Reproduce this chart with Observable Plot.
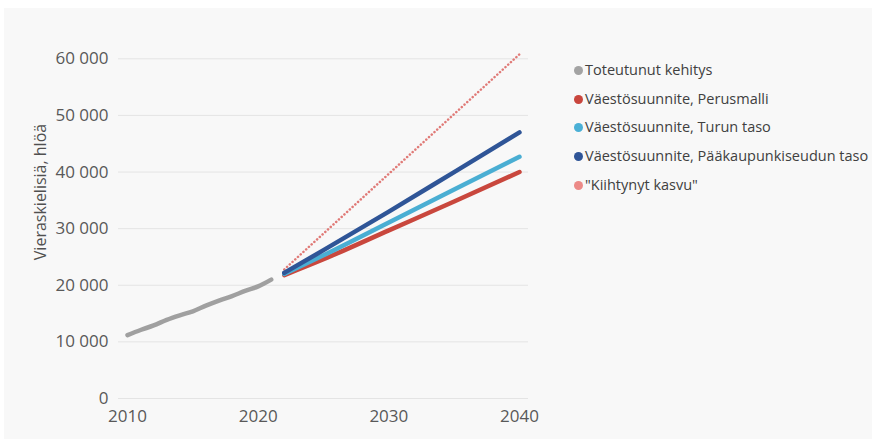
<!DOCTYPE html>
<html>
<head>
<meta charset="utf-8">
<script src="https://cdn.jsdelivr.net/npm/d3@7"></script>
<script src="https://cdn.jsdelivr.net/npm/@observablehq/plot@0.6"></script>
<style>
  html, body { margin: 0; padding: 0; background: #ffffff; overflow: hidden; }
  #wrap { position: relative; width: 872px; height: 439px; overflow: hidden; }
  #bg { position: absolute; left: 4px; top: 8px; right: 0; bottom: 0; background: #f8f8f8; }
  #chart { position: absolute; left: 0; top: 0; }
  #legend { position: absolute; left: 574px; top: 56px; font-family: "Open Sans", sans-serif; font-size: 14.5px; color: #404040; white-space: nowrap; }
  #legend .item { height: 28.7px; display: flex; align-items: center; line-height: 1; }
  #legend .sw { width: 9px; height: 9px; border-radius: 50%; margin-right: 2px; flex: none; }
</style>
</head>
<body>
<div id="wrap"><div id="bg"></div><div id="chart"></div><div id="legend"></div></div>
<script>
// ---- data ----
const histYears = [2010, 2011, 2012, 2013, 2014, 2015, 2016, 2017, 2018, 2019, 2020, 2021];
const histValues = [11200, 12100, 12900, 13900, 14700, 15400, 16400, 17300, 18100, 19000, 19800, 21000];

const projYears = [2022, 2025, 2030, 2035, 2040];
const perusmalli = [21800, 24600, 29700, 34800, 40000];
const turunTaso = [22000, 25300, 31100, 36900, 42700];
const paakaupunkiTaso = [22200, 26200, 33000, 40000, 47000];

const kiihtynytYears = [2022, 2040];
const kiihtynyt = [22800, 60800];

const seriesNames = [
  "Toteutunut kehitys",
  "Väestösuunnite, Perusmalli",
  "Väestösuunnite, Turun taso",
  "Väestösuunnite, Pääkaupunkiseudun taso",
  "\"Kiihtynyt kasvu\""
];
const lineColors = ["#a0a0a0", "#c9473d", "#4aaed3", "#2f5597", "#e07a77"];
const legendColors = ["#a3a3a3", "#c9463d", "#4bb0d6", "#2f5597", "#ec8a87"];

const yTicks = [0, 10000, 20000, 30000, 40000, 50000, 60000];
const xTicks = [2010, 2020, 2030, 2040];
const yLabel = "Vieraskielisiä, hlöä";

// ---- build tables ----
const solid = [
  ...histYears.map((x, i) => ({x, y: histValues[i], s: seriesNames[0]})),
  ...projYears.map((x, i) => ({x, y: perusmalli[i], s: seriesNames[1]})),
  ...projYears.map((x, i) => ({x, y: turunTaso[i], s: seriesNames[2]})),
  ...projYears.map((x, i) => ({x, y: paakaupunkiTaso[i], s: seriesNames[3]}))
];
const dotted = kiihtynytYears.map((x, i) => ({x, y: kiihtynyt[i], s: seriesNames[4]}));

const fmt = d => d3.format(",")(d).replace(/,/g, " ");

const chart = Plot.plot({
  width: 872,
  height: 439,
  marginLeft: 118,
  marginRight: 344,
  marginTop: 47,
  marginBottom: 41,
  style: {background: "transparent", fontFamily: "Open Sans, sans-serif", fontSize: "17px", color: "#595959"},
  x: {domain: [2009.31, 2040.69]},
  y: {domain: [0, 62000]},
  color: {domain: seriesNames, range: lineColors},
  marks: [
    Plot.ruleY(yTicks, {stroke: "#e4e4e4", strokeWidth: 1}),
    Plot.axisY(yTicks, {tickSize: 0, tickPadding: 10, tickFormat: fmt, label: null}),
    Plot.axisX(xTicks, {tickSize: 0, tickPadding: 11, tickFormat: d => String(d), label: null}),
    Plot.text([yLabel], {frameAnchor: "left", text: d => d, rotate: -90, dx: -78, dy: -31, textAnchor: "middle", fontSize: 16, fill: "#505050"}),
    Plot.line(dotted, {x: "x", y: "y", z: "s", stroke: "s", strokeWidth: 2.5, strokeDasharray: "0.1,3.6", strokeLinecap: "round"}),
    Plot.line(solid, {x: "x", y: "y", z: "s", stroke: "s", strokeWidth: 4.5, strokeLinecap: "round", strokeLinejoin: "round", curve: "monotone-x"})
  ]
});
document.getElementById("chart").appendChild(chart);

// ---- legend ----
const legend = document.getElementById("legend");
seriesNames.forEach((name, i) => {
  const item = document.createElement("div");
  item.className = "item";
  const sw = document.createElement("span");
  sw.className = "sw";
  sw.style.background = legendColors[i];
  const t = document.createElement("span");
  t.textContent = name;
  item.appendChild(sw);
  item.appendChild(t);
  legend.appendChild(item);
});
</script>
</body>
</html>
